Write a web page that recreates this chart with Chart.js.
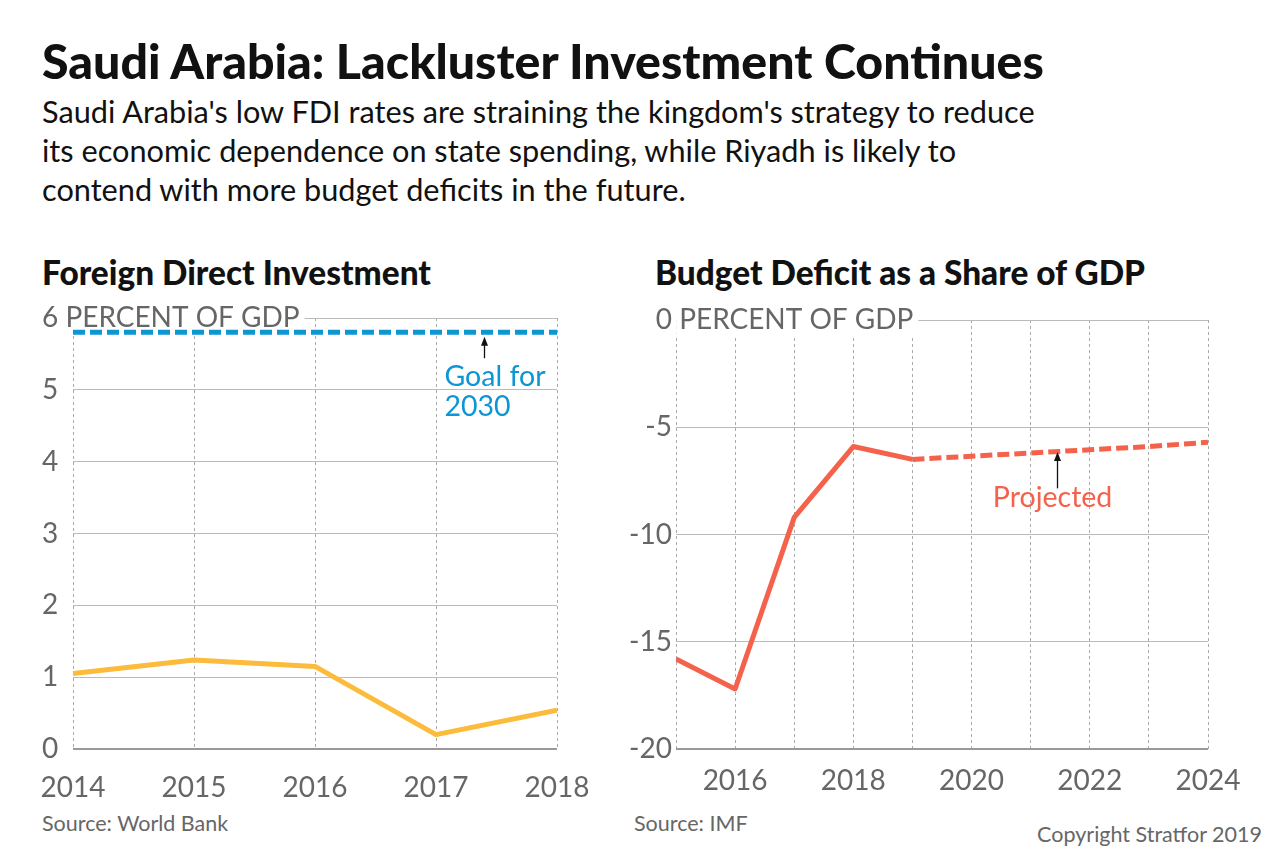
<!DOCTYPE html>
<html><head><meta charset="utf-8">
<script src="https://cdn.jsdelivr.net/npm/chart.js@4"></script>
<style>
html,body{margin:0;padding:0;background:#fff;width:1280px;height:868px;overflow:hidden;font-family:Lato,'Open Sans',sans-serif;}
.t{position:absolute;white-space:nowrap;margin:0;}
#title{left:42px;top:32px;font-size:48.3px;font-weight:900;color:#111;line-height:56px;}
#sub{left:42px;top:92px;font-size:30.7px;color:#111;line-height:39px;white-space:normal;width:1200px;}
.h2{top:251px;font-size:33.4px;font-weight:900;color:#111;line-height:42px;}
.src{font-size:21.5px;color:#666;line-height:26px;}
canvas{position:absolute;}
</style></head>
<body>
<div class="t" id="title">Saudi Arabia: Lackluster Investment Continues</div>
<div class="t" id="sub">Saudi Arabia's low FDI rates are straining the kingdom's strategy to reduce<br>its economic dependence on state spending, while Riyadh is likely to<br>contend with more budget deficits in the future.</div>
<div class="t h2" style="left:42px;">Foreign Direct Investment</div>
<div class="t h2" style="left:655px;">Budget Deficit as a Share of GDP</div>
<div class="t src" style="left:42px;top:810px;">Source: World Bank</div>
<div class="t src" style="left:634px;top:810px;">Source: IMF</div>
<div class="t src" style="right:18px;top:821px;">Copyright Stratfor 2019</div>
<canvas id="c1" width="600" height="540" style="left:0;top:280px;"></canvas>
<canvas id="c2" width="680" height="540" style="left:600px;top:280px;"></canvas>
<script>
// ---- data ----
const fdiYears = [2014, 2015, 2016, 2017, 2018];
const fdiValues = [1.05, 1.24, 1.15, 0.2, 0.54];
const fdiGoal = [5.8, 5.8, 5.8, 5.8, 5.8];
const fdiTicks = [0, 1, 2, 3, 4, 5, 6];

const deficitYears = [2015, 2016, 2017, 2018, 2019];
const deficitActual = [-15.8, -17.2, -9.2, -5.9, -6.5];
const projYears = [2019, 2020, 2021, 2022, 2023, 2024];
const deficitProjected = [-6.5, -6.35, -6.2, -6.05, -5.9, -5.7];
const deficitTicks = [-20, -15, -10, -5, 0];
const deficitYearTicks = [2016, 2018, 2020, 2022, 2024];

const unitLabel = 'PERCENT OF GDP';
const FONT = 'Lato';
const GREY = '#666666';
const BLUE = '#0d96d4';
const YELLOW = '#fdbb3b';
const RED = '#f4624c';

Chart.defaults.font.family = FONT;
Chart.defaults.color = GREY;

function pts(xs, ys){ return xs.map((x,i)=>({x:x, y:ys[i]})); }

const unitPlugin = {
  id: 'unitLabel',
  beforeDatasetsDraw(chart, args, o){
    const ys = chart.scales.y, ctx = chart.ctx;
    const py = ys.getPixelForValue(ys.max);
    ctx.save();
    ctx.font = '28px ' + FONT;
    const topTxt = String(ys.max);
    const sp = ctx.measureText(' ').width;
    let x0;
    if (o.align === 'left') x0 = ys.left + ctx.measureText(topTxt).width + sp;
    else x0 = ys.right - o.pad + sp;
    const w = ctx.measureText(unitLabel).width;
    ctx.fillStyle = '#fff';
    ctx.fillRect(x0 - 3, py - 16, w + 8, 32);
    ctx.fillStyle = GREY;
    ctx.textBaseline = 'middle';
    ctx.textAlign = 'left';
    ctx.fillText(unitLabel, x0, py);
    ctx.restore();
  }
};

const notePlugin = {
  id: 'note',
  afterDatasetsDraw(chart, args, o){
    const xs = chart.scales.x, ys = chart.scales.y, ctx = chart.ctx;
    ctx.save();
    ctx.font = '28.5px ' + FONT;
    ctx.fillStyle = o.color;
    ctx.textBaseline = 'middle';
    ctx.textAlign = 'left';
    o.lines.forEach((ln, i)=>{
      ctx.fillText(ln, xs.getPixelForValue(o.textX), ys.getPixelForValue(o.textY[i]));
    });
    const ax = Math.round(xs.getPixelForValue(o.arrowX)) + 0.5;
    const a1 = ys.getPixelForValue(o.arrowFrom), a2 = ys.getPixelForValue(o.arrowTo);
    ctx.strokeStyle = '#111';
    ctx.lineWidth = 1.3;
    ctx.beginPath(); ctx.moveTo(ax, a1); ctx.lineTo(ax, a2 + 6); ctx.stroke();
    ctx.fillStyle = '#111';
    ctx.beginPath(); ctx.moveTo(ax, a2); ctx.lineTo(ax - 3.5, a2 + 9); ctx.lineTo(ax + 3.5, a2 + 9); ctx.closePath(); ctx.fill();
    ctx.restore();
  }
};

function baseOptions(cfg){
  return {
    responsive: false,
    devicePixelRatio: 1,
    animation: false,
    events: [],
    layout: { padding: cfg.padding },
    plugins: { legend: {display:false}, tooltip: {enabled:false}, unitLabel: cfg.unit, note: cfg.note },
    scales: {
      x: {
        type: 'linear', min: cfg.xmin, max: cfg.xmax,
        afterFit(s){ s.height = cfg.xHeight; s.paddingLeft = 0; s.paddingRight = 0; },
        afterBuildTicks(s){ s.ticks = cfg.xTicksAll.map(v=>({value:v})); },
        grid: { color: '#aaaaaa', lineWidth: 1, drawTicks: false },
        border: { display: false, dash: [3, 3] },
        ticks: {
          padding: cfg.xPad, color: GREY, font: {size: 28, family: FONT},
          maxRotation: 0, autoSkip: false,
          callback: (v)=> cfg.xLabels.includes(v) ? String(v) : ''
        }
      },
      y: {
        min: cfg.ymin, max: cfg.ymax,
        afterFit(s){ s.width = cfg.yWidth; },
        afterBuildTicks(s){ s.ticks = cfg.yTicks.map(v=>({value:v})); },
        grid: {
          drawTicks: false,
          color: (c)=> c.tick && c.tick.value === cfg.ymin ? '#999999' : '#bbbbbb',
          lineWidth: (c)=> c.tick && c.tick.value === cfg.ymin ? 2 : 1
        },
        border: { display: false },
        ticks: {
          padding: cfg.yPad, crossAlign: cfg.crossAlign, color: GREY,
          font: {size: 28, family: FONT},
          callback: (v)=> String(v)
        }
      }
    }
  };
}

new Chart(document.getElementById('c1'), {
  type: 'line',
  data: { datasets: [
    { data: pts(fdiYears, fdiValues), borderColor: YELLOW, borderWidth: 5, pointRadius: 0, fill: false, tension: 0, borderJoinStyle: 'round' },
    { data: pts(fdiYears, fdiGoal), borderColor: BLUE, borderWidth: 5, borderDash: [12, 5], pointRadius: 0, fill: false }
  ]},
  options: baseOptions({
    padding: {left: 42, right: 43, top: 38, bottom: 0},
    xmin: 2014, xmax: 2018, xTicksAll: fdiYears, xLabels: fdiYears, xHeight: 71, xPad: 22,
    ymin: 0, ymax: 6, yTicks: fdiTicks, yWidth: 31, yPad: 0, crossAlign: 'far',
    unit: {align: 'left', pad: 0},
    note: {lines: ['Goal for', '2030'], color: BLUE, textX: 2017.07, textY: [5.18, 4.76], arrowX: 2017.4, arrowFrom: 5.44, arrowTo: 5.74}
  }),
  plugins: [unitPlugin, notePlugin]
});

const allDefYears = deficitYears.concat(projYears.slice(1));
new Chart(document.getElementById('c2'), {
  type: 'line',
  data: { datasets: [
    { data: pts(deficitYears, deficitActual), borderColor: RED, borderWidth: 5, pointRadius: 0, fill: false, tension: 0, borderJoinStyle: 'round' },
    { data: pts(projYears, deficitProjected), borderColor: RED, borderWidth: 5, borderDash: [12, 5], pointRadius: 0, fill: false }
  ]},
  options: baseOptions({
    padding: {left: 0, right: 72, top: 40, bottom: 0},
    xmin: 2015, xmax: 2024, xTicksAll: allDefYears, xLabels: deficitYearTicks, xHeight: 71, xPad: 15,
    ymin: -20, ymax: 0, yTicks: deficitTicks, yWidth: 76, yPad: 4, crossAlign: 'near',
    unit: {align: 'right', pad: 4},
    note: {lines: ['Projected'], color: RED, textX: 2020.36, textY: [-8.3], arrowX: 2021.45, arrowFrom: -7.85, arrowTo: -6.15}
  }),
  plugins: [unitPlugin, notePlugin]
});
</script>
</body></html>
